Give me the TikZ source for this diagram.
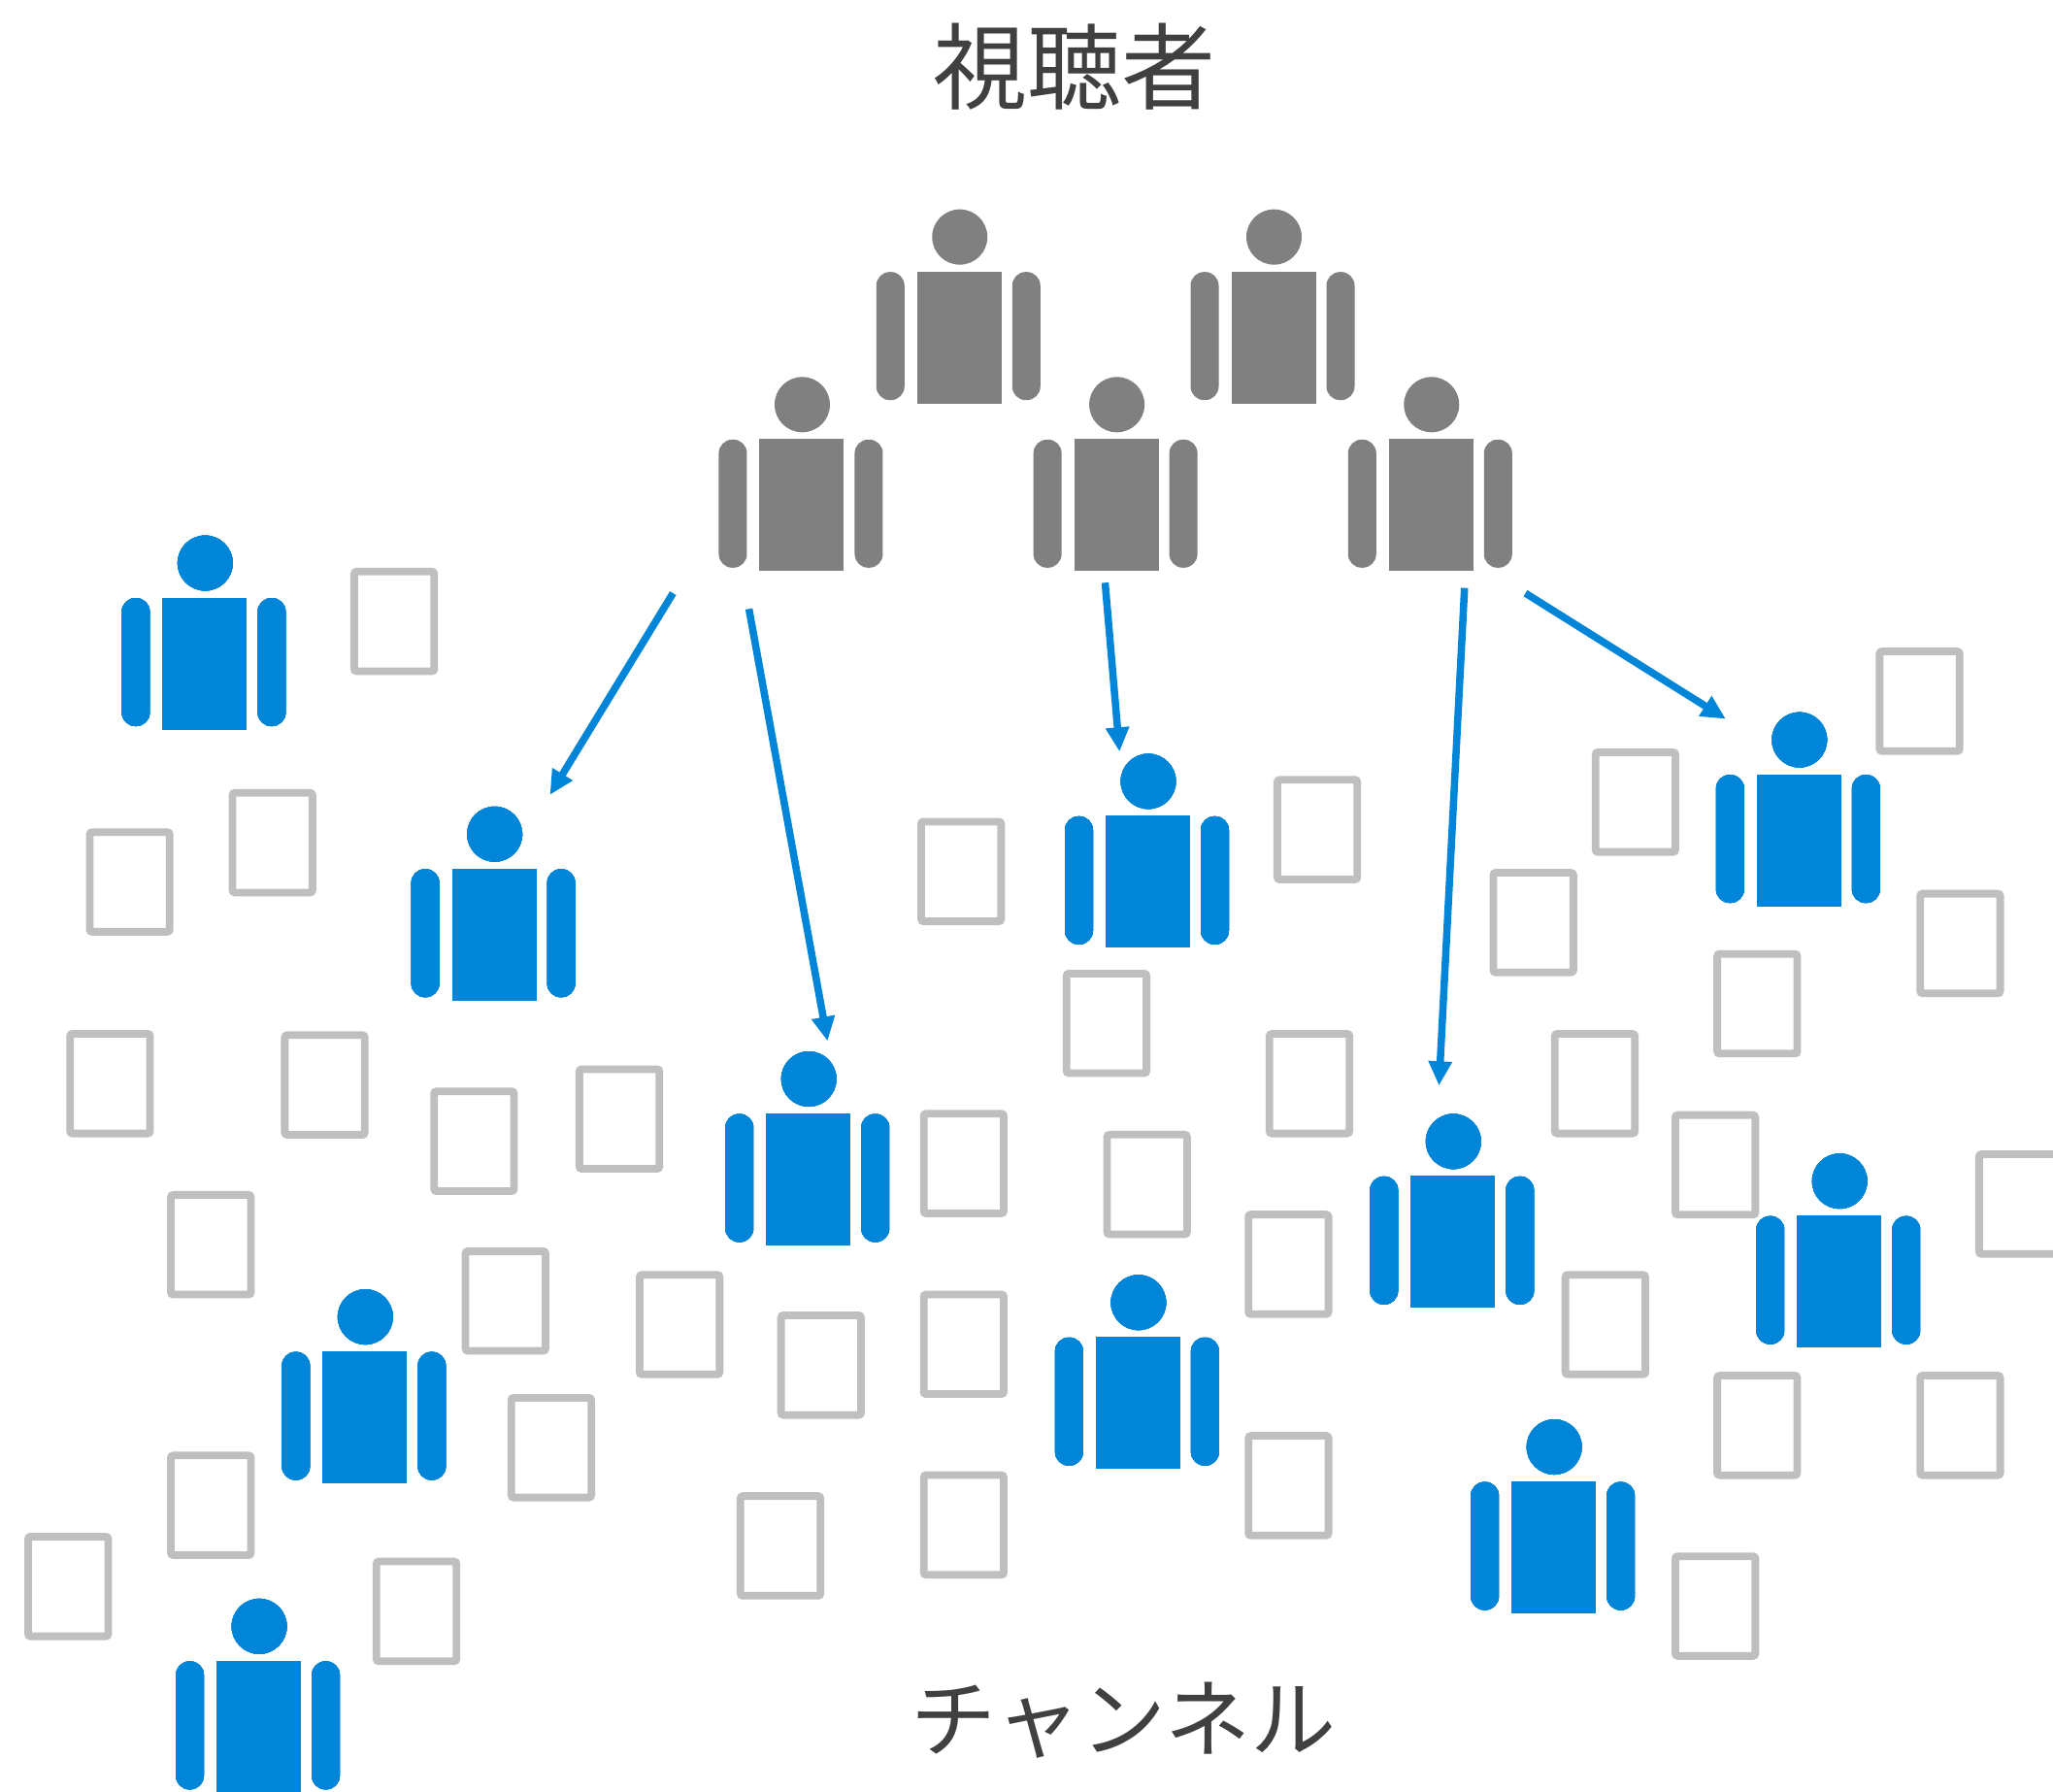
\documentclass[tikz,border=0pt]{standalone}
\usepackage{fontspec}
\usetikzlibrary{arrows.meta}
\newfontfamily\jpfont{Noto Sans CJK JP}
\definecolor{persongrey}{HTML}{808080}
\definecolor{personblue}{HTML}{0085D9}
\definecolor{boxgrey}{HTML}{BFBFBF}
\definecolor{textgrey}{HTML}{404040}
\newcommand{\drawperson}[3]{%
  \begin{scope}[shift={(#1,#2)},x=1pt,y=-1pt]
    \fill[#3] (0,0) circle[radius=28.5pt];
    \fill[#3] (-44,35.5) rectangle (43,171.5);
    \fill[#3,rounded corners=14pt] (-86,36) rectangle (-57,168);
    \fill[#3,rounded corners=14pt] (54,36) rectangle (83,168);
  \end{scope}}
\tikzset{
  x=1.3489pt,y=-1.3489pt,
  chanbox/.style={draw=boxgrey,line width=7.8pt,rounded corners=2.5pt,fill=white},
  flow/.style={draw=personblue,line width=7.5pt,-{Triangle[length=25pt,width=23pt]}},
  heading/.style={text=textgrey,inner sep=0pt,font=\jpfont}
}
\begin{document}
\begin{tikzpicture}
\clip (0,0) rectangle (1567.94,1367.78);
\fill[white] (0,0) rectangle (1567.94,1367.78);
\foreach \bx/\by in {268/434,175/603,66/633,51/787,215/788,329/831,440/814,128/910,353/953,388/1065,128/1109,19/1171,285/1190,486/971,594/1002,703/848,703/986,703/1124,563/1140,701/625,812/741,843/864,973/593,967/787,951/925,951/1094,1216/572,1138/664,1433/495,1309/726,1464/680,1185/787,1277/849,1509/879,1193/971,1309/1048,1464/1048,1277/1186}
  \draw[chanbox] (\bx+2.5,\by+2.5) rectangle (\bx+63.6,\by+78.6);
\foreach \hx/\hy in {733/181,973/181,612.7/309,853/309,1093.3/309}
  \drawperson{\hx}{\hy}{persongrey}
\foreach \hx/\hy in {156.7/430,377.8/637,617.7/824,877/596.7,1374.3/565,1110/871.7,1405/902,869.5/994.7,1187/1105,279/1005.7,198/1242}
  \drawperson{\hx}{\hy}{personblue}
\coordinate (a1s) at (514,453); \coordinate (a1e) at (420,607);
\coordinate (a2s) at (572,465); \coordinate (a2e) at (632,795);
\coordinate (a3s) at (844,445); \coordinate (a3e) at (855,574);
\coordinate (a4s) at (1118.5,449); \coordinate (a4e) at (1099,829);
\coordinate (a5s) at (1165,453); \coordinate (a5e) at (1318,549);
\draw[flow] (a1s) -- (a1e);
\draw[flow] (a2s) -- (a2e);
\draw[flow] (a3s) -- (a3e);
\draw[flow] (a4s) -- (a4e);
\draw[flow] (a5s) -- (a5e);
\node[heading] (viewers) at (821,51) {\fontsize{97pt}{97pt}\selectfont 視聴者};
\node[heading] (channels) at (858,1313.5) {\fontsize{88pt}{88pt}\selectfont チャンネル};
\end{tikzpicture}
\end{document}
